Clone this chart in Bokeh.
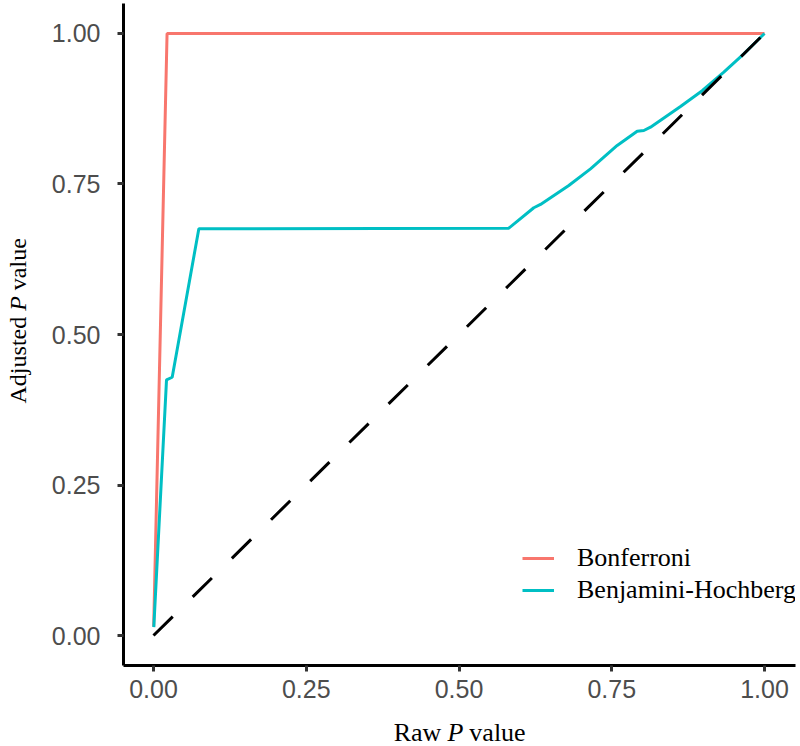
import math
from bokeh.plotting import figure
from bokeh.layouts import row, column
from bokeh.models import Range1d, Label, Legend, LegendItem, FixedTicker
from bokeh.embed import file_html
from bokeh.resources import INLINE

# ---- data ----
raw_bonf = [0.0003, 0.0222, 1.0]
adj_bonf = [0.015, 1.0, 1.0]

raw_bh = [0.0005, 0.0213, 0.0306, 0.0742, 0.5815, 0.6224, 0.6334, 0.6797, 0.7152,
          0.7589, 0.7916, 0.8025, 0.8134, 0.8625, 0.898, 0.9334, 0.9661, 1.0]
adj_bh = [0.014, 0.4247, 0.429, 0.6756, 0.6766, 0.7105, 0.716, 0.7475, 0.7752,
          0.814, 0.8377, 0.8389, 0.8444, 0.8787, 0.905, 0.9357, 0.9662, 1.0]

ref_x = [0.0, 1.0]
ref_y = [0.0, 1.0]

ticks = [0.0, 0.25, 0.5, 0.75, 1.0]
tick_labels = ["0.00", "0.25", "0.50", "0.75", "1.00"]

series_names = ["Bonferroni", "Benjamini-Hochberg"]
series_colors = ["#F8766D", "#00BFC4"]

SERIF = "Liberation Serif"
SANS = "Liberation Sans"

x_rng = Range1d(-0.0491, 1.0507)
y_rng = Range1d(-0.0498, 1.0498)

YLAB_W = 40
MAIN_W = 760
MAIN_H = 710
XLAB_H = 36
BORDER_TOP = 3
BORDER_BOTTOM = 45

# ---- main plot ----
p = figure(width=MAIN_W, height=MAIN_H, x_range=x_rng, y_range=y_rng,
           output_backend="svg", toolbar_location=None,
           min_border_left=83, min_border_right=5,
           min_border_top=BORDER_TOP, min_border_bottom=BORDER_BOTTOM)
p.outline_line_color = None
p.xgrid.grid_line_color = None
p.ygrid.grid_line_color = None
p.background_fill_color = "white"
p.border_fill_color = "white"

for ax in (p.xaxis[0], p.yaxis[0]):
    ax.ticker = FixedTicker(ticks=ticks)
    ax.major_label_overrides = {t: l for t, l in zip(ticks, tick_labels)}
    ax.axis_line_color = "black"
    ax.axis_line_width = 3
    ax.major_tick_line_color = "#333333"
    ax.major_tick_line_width = 3
    ax.major_tick_out = 6
    ax.major_tick_in = 0
    ax.minor_tick_line_color = None
    ax.major_label_text_font = SANS
    ax.major_label_text_font_size = "25px"
    ax.major_label_text_color = "#4D4D4D"
p.xaxis.major_label_standoff = 8
p.yaxis.major_label_standoff = 17

r1 = p.line(raw_bonf, adj_bonf, line_color=series_colors[0], line_width=3)
r2 = p.line(raw_bh, adj_bh, line_color=series_colors[1], line_width=3)
p.line(ref_x, ref_y, line_color="black", line_width=3, line_dash="27 28")

legend = Legend(items=[LegendItem(label=series_names[0], renderers=[r1]),
                       LegendItem(label=series_names[1], renderers=[r2])],
                location=(399, 59), padding=0, margin=0, spacing=0,
                glyph_width=32, glyph_height=32, label_height=32, label_standoff=23,
                label_text_font=SERIF, label_text_font_size="26px",
                label_text_color="black",
                border_line_color=None, background_fill_alpha=0)
p.add_layout(legend)

# ---- y axis title (rotated, italic P) ----
ylab = figure(width=YLAB_W, height=MAIN_H, x_range=Range1d(0, 1), y_range=y_rng,
              x_axis_type=None, y_axis_type=None, output_backend="svg", toolbar_location=None,
              min_border_left=0, min_border_right=0,
              min_border_top=BORDER_TOP, min_border_bottom=BORDER_BOTTOM)
ylab.outline_line_color = None
ylab.border_fill_color = "white"
for txt, style, align, yy in [("Adjusted", "normal", "right", 0.5294),
                              ("P", "italic", "center", 0.5515),
                              ("value", "normal", "left", 0.5736)]:
    ylab.add_layout(Label(x=0.43, y=yy, text=txt, angle=math.pi / 2, text_font=SERIF,
                          text_font_size="24px", text_font_style=style, text_align=align,
                          text_baseline="alphabetic", text_color="black"))

# ---- x axis title (italic P) ----
xlab = figure(width=YLAB_W + MAIN_W, height=XLAB_H, x_range=x_rng, y_range=Range1d(0, 1),
              x_axis_type=None, y_axis_type=None, output_backend="svg", toolbar_location=None,
              min_border_left=YLAB_W + 83, min_border_right=5,
              min_border_top=0, min_border_bottom=0)
xlab.outline_line_color = None
xlab.border_fill_color = "white"
for txt, style, align, off in [("Raw", "normal", "right", -14),
                               ("P", "italic", "center", 0),
                               ("value", "normal", "left", 14)]:
    xlab.add_layout(Label(x=0.494, y=0.39, x_offset=off, text=txt, text_font=SERIF,
                          text_font_size="26px", text_font_style=style, text_align=align,
                          text_baseline="alphabetic", text_color="black"))

layout = column(row(ylab, p), xlab)
open("out.html", "w").write(file_html(layout, INLINE))
